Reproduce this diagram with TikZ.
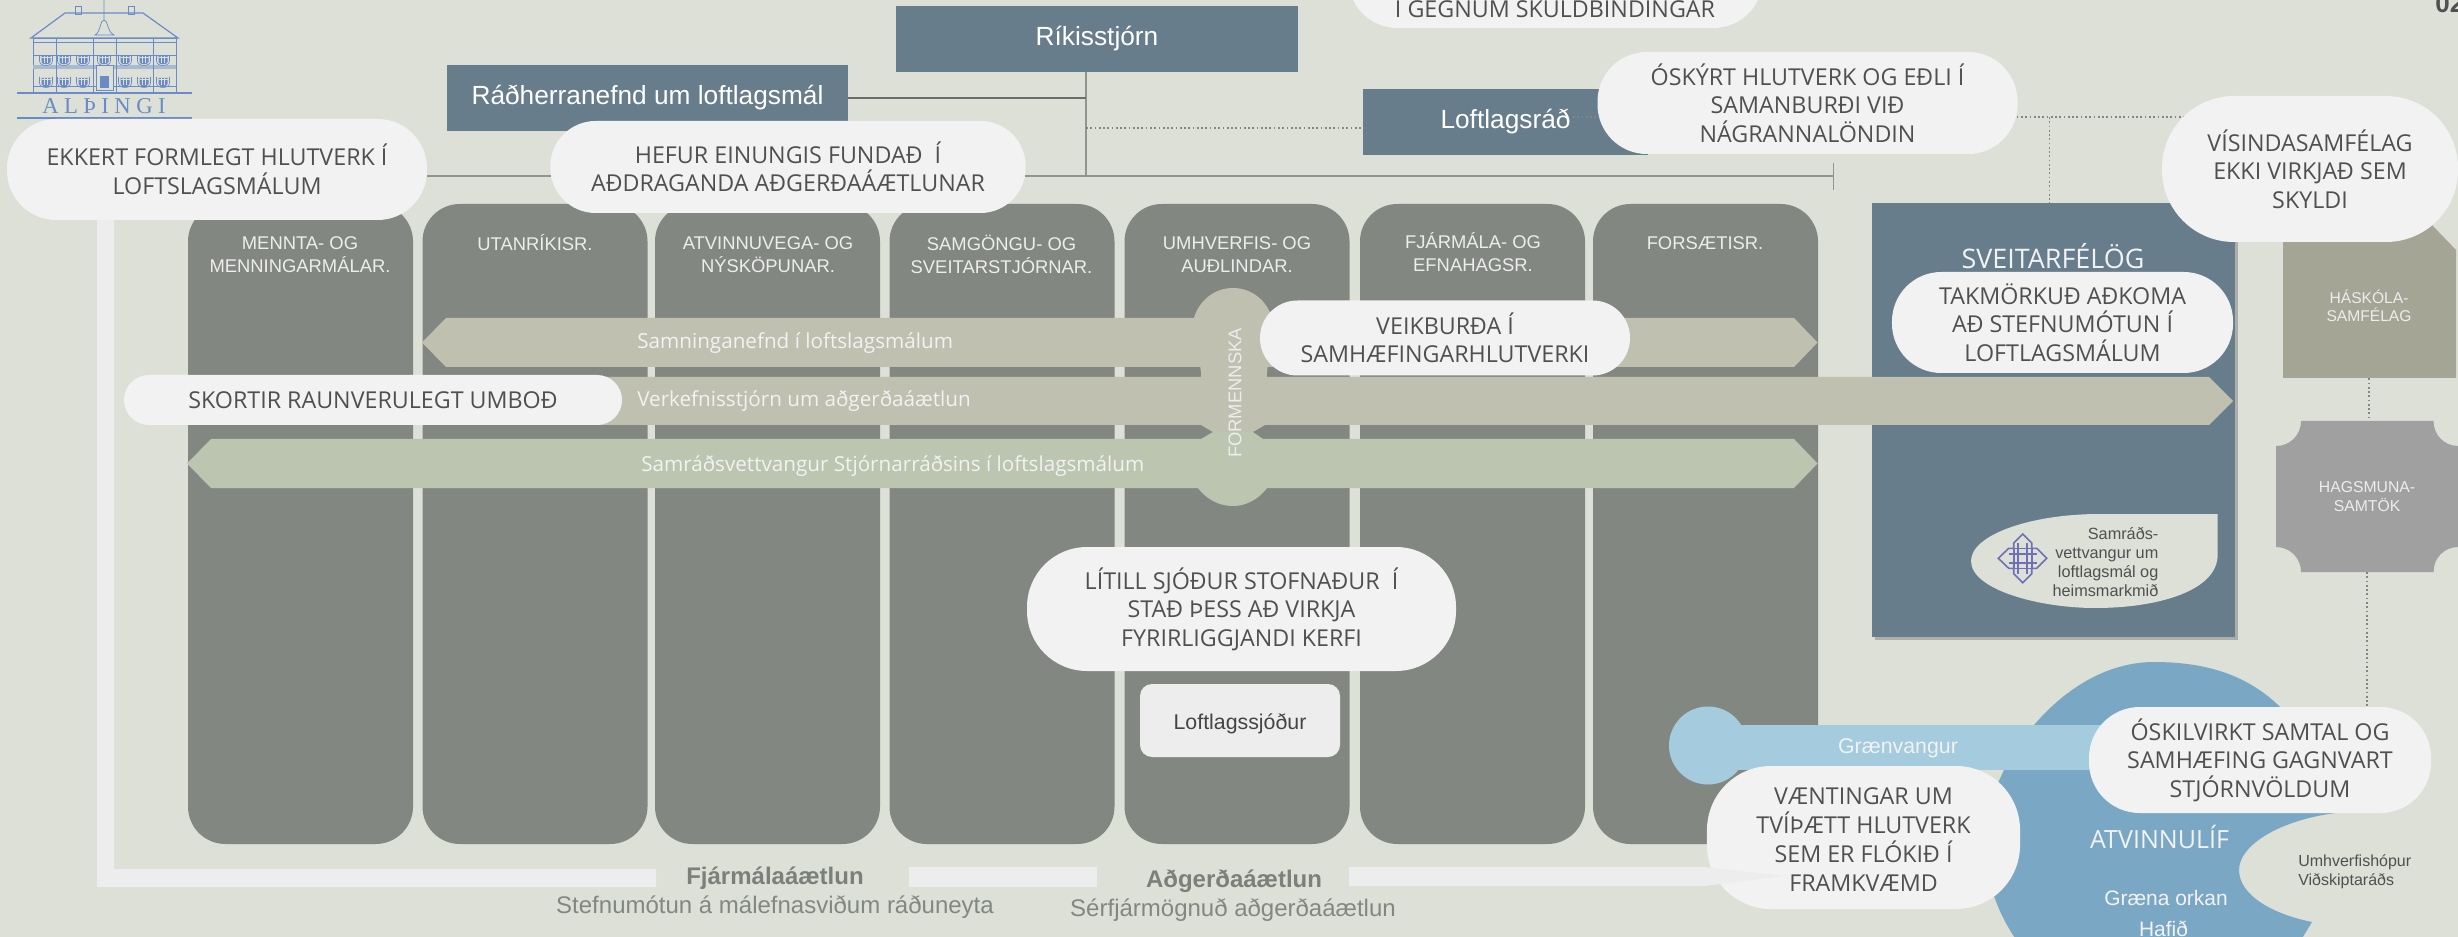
\documentclass[tikz,border=0pt]{standalone}
\usepackage{fontspec}
\setmainfont{Liberation Sans}
\newfontfamily\calloutfont{Open Sans}
\newfontfamily\logofont[LetterSpace=24]{Liberation Serif}
\usetikzlibrary{shadows}

\definecolor{paperbg}{HTML}{DDE0D7}
\definecolor{columngrey}{HTML}{838782}
\definecolor{stjornblue}{HTML}{677D8B}
\definecolor{bubblewhite}{HTML}{F2F2F2}
\definecolor{bracketwhite}{HTML}{EDEDED}
\definecolor{bandbeige}{HTML}{BFC0B0}
\definecolor{bandgreen}{HTML}{BCC5B0}
\definecolor{calloutgrey}{HTML}{505050}
\definecolor{atvinnublue}{HTML}{7AA8C4}
\definecolor{vangurblue}{HTML}{A5CBDF}
\definecolor{haskolifill}{HTML}{A5A595}
\definecolor{hagsmfill}{HTML}{A0A0A0}
\definecolor{logoblue}{HTML}{6A8BC8}
\definecolor{knotblue}{HTML}{6F70B5}

\tikzset{
  bubble/.style={fill=bubblewhite, rounded corners=#1, inner sep=0pt, text=calloutgrey, align=center,
    font=\calloutfont\fontsize{17.45}{21.4}\selectfont},
  stjbox/.style={fill=stjornblue, inner sep=0pt, text=white, font=\fontsize{19.7}{23}\selectfont},
  column/.style={fill=columngrey, rounded corners=28pt, minimum width=168.75pt, minimum height=480pt},
  columntxt/.style={inner sep=0pt, text=bracketwhite, align=center, font=\fontsize{13.8}{17.2}\selectfont},
  bandtxt/.style={inner sep=0pt, anchor=west, text=bubblewhite, font=\calloutfont\fontsize{15.5}{18}\selectfont},
  darktxt/.style={inner sep=0pt, text=calloutgrey, align=#1, font=\fontsize{12.2}{14.3}\selectfont},
  planhead/.style={inner sep=0pt, text=columngrey!95!black, font=\bfseries\fontsize{18}{21}\selectfont},
  plansub/.style={inner sep=0pt, text=columngrey, font=\fontsize{18}{21}\selectfont},
  barline/.style={draw=columngrey!85!paperbg, line width=1.1pt},
  dotline/.style={draw=columngrey, line width=1.3pt, dash pattern=on 1.3pt off 1.9pt},
  logoline/.style={draw=logoblue, line width=0.55pt},
  gluggi/.pic={
    \draw[logoline, line width=0.45pt] (-6.5,2) -- (-6.5,-4) .. controls (-6.5,-10) and (6.5,-10) .. (6.5,-4) -- (6.5,2);
    \fill[logoblue] (-4.5,-5) .. controls (-4.5,-8) and (4.5,-8) .. (4.5,-5) -- (4.5,#1) -- (-4.5,#1) -- cycle;
    \draw[paperbg, line width=0.25pt] (-1.5,-6) -- (-1.5,#1) (1.5,-6) -- (1.5,#1) (-4.5,0) -- (4.5,0) (-4.5,3.5) -- (4.5,3.5);
  },
  gluggi/.default=7
}

\begin{document}
\begin{tikzpicture}[x=0.75pt,y=0.75pt,yscale=-1,xscale=1]
    \useasboundingbox (0,0) rectangle (2458,937);
    \clip (0,0) rectangle (2458,937);
    \fill[paperbg] (0,0) rectangle (2458,937);

    %Logo: building
    \draw[logoline, line width=0.9pt] (31,38) -- (65,13) -- (143,13) -- (178,38) -- cycle;
    \draw[logoline] (75,6) rectangle (81,14) (128,6) rectangle (134,14);
    \draw[logoline] (104,0) -- (104,20) (95,35) .. controls (101,32) and (100,20) .. (104,20) .. controls (108,20) and (107,32) .. (114,35) -- cycle;
    \draw[logoline] (33,38) rectangle (176,92);
    \draw[logoline] (33,42) -- (176,42) (33,55) -- (176,55) (33,86) -- (176,86);
    \fill[logoblue!45!paperbg] (33,65) rectangle (176,69);
    \draw[logoline] (56,38) -- (56,92) (93,38) -- (93,92) (116,38) -- (116,92) (153,38) -- (153,92);
    \path (46,57) pic {gluggi};
    \path (64,57) pic {gluggi};
    \path (83,57) pic {gluggi};
    \path (104,57) pic {gluggi};
    \path (125,57) pic {gluggi};
    \path (144,57) pic {gluggi};
    \path (163,57) pic {gluggi};
    \path (46,79) pic {gluggi};
    \path (64,79) pic {gluggi};
    \path (83,79) pic {gluggi};
    \path (125,79) pic {gluggi};
    \path (144,79) pic {gluggi};
    \path (163,79) pic {gluggi};
    \draw[logoline, fill=paperbg] (96,65) rectangle (113,90);
    \fill[logoblue] (100,76) rectangle (109,88);
    \draw[logoline, line width=0.9pt] (17,93) -- (192,93);
    \draw[logoline, line width=1.1pt] (17,118) -- (192,118);
    \draw (104,106) node (althingi) [inner sep=0pt, text=logoblue, font=\logofont\fontsize{17}{18}\selectfont] {ALÞINGI};

    %Shape: bracket along the plan
    \fill[bracketwhite] (97,200) -- (114,200) -- (114,869) -- (656,869) -- (656,887) -- (97,887) -- cycle;
    \fill[bracketwhite] (909,867) rectangle (1097,887);
    \fill[bracketwhite] (1349,867) -- (1703,867) -- (1720,869) -- (1720,884) -- (1703,886) -- (1349,886) -- cycle;

    %Ministries
    \draw (300.5,524) node (menntar) [column] {};
    \draw (535,524) node (utanr) [column] {};
    \draw (767.5,524) node (atvinnur) [column] {};
    \draw (1002,524) node (samgr) [column] {};
    \draw (1237,524) node (umhvr) [column] {};
    \draw (1472.5,524) node (fjarmr) [column] {};
    \draw (1705.5,524) node (forsr) [column] {};
    \draw (300,254.5) node (menntatxt) [columntxt] {MENNTA- OG\\MENNINGARMÁLAR.};
    \draw (535,243) node (utantxt) [columntxt] {UTANRÍKISR.};
    \draw (768,254.5) node (atvinnutxt) [columntxt] {ATVINNUVEGA- OG\\NÝSKÖPUNAR.};
    \draw (1001.5,254.5) node (samgtxt) [columntxt] {SAMGÖNGU- OG\\SVEITARSTJÓRNAR.};
    \draw (1237,254.5) node (umhvtxt) [columntxt] {UMHVERFIS- OG\\AUÐLINDAR.};
    \draw (1473,252) node (fjarmtxt) [columntxt] {FJÁRMÁLA- OG\\EFNAHAGSR.};
    \draw (1705,243) node (forstxt) [columntxt] {FORSÆTISR.};

    %Government boxes
    \draw (1097,39) node (rikis) [stjbox, minimum width=301.5pt, minimum height=49.5pt] {Ríkisstjórn};
    \draw (647.5,98) node (radh) [stjbox, minimum width=300.75pt, minimum height=49.5pt] {Ráðherranefnd um loftlagsmál};
    \draw (1505.5,122) node (loftrad) [stjbox, minimum width=213.75pt, minimum height=49.5pt] {Loftlagsráð};
    \coordinate (rikisS) at (1086,72);
    \coordinate (barL) at (427,176);
    \coordinate (barR) at (1833.5,176);
    \coordinate (dotL) at (1086,128);
    \coordinate (dotM) at (1573,117);
    \coordinate (dotR) at (2186,117);
    \coordinate (dotN) at (2049.5,117);
    \coordinate (sveitN) at (2049.5,207);
    \draw[barline] (barL) -- (barR);
    \draw[barline, line width=0.8pt] (1833.5,163) -- (1833.5,190);
    \draw[barline] (rikisS) -- (rikisS |- barR);
    \draw[draw=columngrey!80!black, line width=1.4pt] (radh.east) -- (radh.east -| rikisS);
    \draw[dotline] (dotL) -- (loftrad.west |- dotL);
    \draw[dotline] (dotM) -- (dotR);
    \draw[dotline] (dotN) -- (sveitN);

    %Sveitarfelog
    \draw (2053.5,420) node (sveit) [fill=stjornblue, minimum width=272.25pt, minimum height=325.5pt, drop shadow={shadow xshift=2.5pt, shadow yshift=-2.5pt, opacity=0.22, fill=black}] {};
    \draw (2053,256) node (sveittxt) [inner sep=0pt, text=bubblewhite, font=\calloutfont\fontsize{20.2}{23}\selectfont] {SVEITARFÉLÖG};
    %Shape: leaf
    \fill[paperbg] (2217.6,514) -- (2100,514) .. controls (2030,514) and (1971,535) .. (1971,561) .. controls (1971,590) and (2040,608) .. (2095,608) .. controls (2160,608) and (2217.6,590) .. (2217.6,555) -- cycle;
    %Shape: knot
    \draw[knotblue, line width=1.2pt, line join=miter] (2022.7,534) -- (2031.7,543) -- (2031.7,548.3) -- (2036.7,548.3) -- (2046.7,558.3) -- (2036.7,568.3) -- (2031.7,568.3) -- (2031.7,573.7) -- (2022.7,582.7) -- (2013.7,573.7) -- (2013.7,568.3) -- (2008.7,568.3) -- (1998.3,558.3) -- (2008.7,548.3) -- (2013.7,548.3) -- (2013.7,543) -- cycle;
    \draw[knotblue, line width=1.2pt] (2013.7,548.3) rectangle (2031.7,568.3) (2018.2,543) -- (2018.2,573.7) (2027.2,543) -- (2027.2,573.7) (2008.7,553.8) -- (2036.7,553.8) (2008.7,562.8) -- (2036.7,562.8);
    \draw (2158.6,562) node (samrad) [darktxt=right, anchor=east] {Samráðs-\\vettvangur um\\loftlagsmál og\\heimsmarkmið};

    %Shape: Haskola and Hagsmuna
    \fill[haskolifill] (2283,225) -- (2432,225) -- (2456,250) -- (2456,378) -- (2283,378) -- cycle;
    \draw (2369,306) node (haskoli) [inner sep=0pt, minimum width=127.5pt, minimum height=108pt, text=bracketwhite, align=center, font=\fontsize{11.7}{13.6}\selectfont] {HÁSKÓLA-\\SAMFÉLAG};
    \fill[hagsmfill] (2301,421) -- (2433.5,421) .. controls (2433.5,435) and (2444,446) .. (2458.5,446) -- (2458.5,547) .. controls (2444,547) and (2433.5,558) .. (2433.5,572) -- (2301,572) .. controls (2301,558) and (2290,547) .. (2276,547) -- (2276,446) .. controls (2290,446) and (2301,435) .. (2301,421) -- cycle;
    \draw (2367,496.5) node (hagsm) [inner sep=0pt, minimum width=136pt, minimum height=113pt, text=bracketwhite, align=center, font=\fontsize{11.8}{14.6}\selectfont] {HAGSMUNA-\\SAMTÖK};

    %Bands
    \fill[bandbeige] (446,318) -- (1794,318) -- (1817.5,342.5) -- (1794,367) -- (446,367) -- (422,342.5) -- cycle;
    %Shape: Formennska upper part
    \fill[bandbeige] (1233,288) .. controls (1255,288) and (1270,305) .. (1273,322) -- (1267,372) -- (1265,425) -- (1253,432) -- (1213,432) -- (1201,425) -- (1201,372) -- (1193,322) .. controls (1196,305) and (1211,288) .. (1233,288) -- cycle;
    \fill[bandbeige] (580,377) -- (2209,377) -- (2233,401) -- (2209,425) -- (580,425) -- cycle;
    \fill[bandgreen] (211,439) -- (1794,439) -- (1817.5,463.5) -- (1794,488) -- (211,488) -- (187,463.5) -- cycle;
    %Shape: Formennska lower part
    \fill[bandgreen] (1213,432) -- (1253,432) -- (1263,439) -- (1267,488) .. controls (1262,495) and (1250,506) .. (1233,506) .. controls (1215,506) and (1203,495) .. (1198,488) -- (1201,439) -- cycle;
    \draw (637,343) node (samning) [bandtxt] {Samninganefnd í loftslagsmálum};
    \draw (637,401) node (verkefni) [bandtxt] {Verkefnisstjórn um aðgerðaáætlun};
    \draw (641,466) node (samrads) [bandtxt] {Samráðsvettvangur Stjórnarráðsins í loftslagsmálum};
    \draw (1235,393) node (formennska) [inner sep=0pt, rotate=90, text=bracketwhite, font=\fontsize{13.8}{16}\selectfont] {FORMENNSKA};

    %Loftlagssjodur
    \draw (1240,720.5) node (sjodur) [fill=bracketwhite, rounded corners=9pt, inner sep=0pt, minimum width=150pt, minimum height=54.75pt] {};
    \draw (1240,724) node (sjodurtxt) [inner sep=0pt, text=calloutgrey!85!black, font=\fontsize{16}{19}\selectfont] {Loftlagssjóður};

    %Shape: Atvinnulif
    \fill[atvinnublue] (2020,945) .. controls (2005,925) and (1985,890) .. (1985,840) .. controls (1985,770) and (2060,662) .. (2154,662) .. controls (2215,662) and (2255,680) .. (2285,712) -- (2336,813) .. controls (2280,820) and (2239,845) .. (2239,870) .. controls (2239,895) and (2272,914) .. (2312,922) -- (2298,945) -- cycle;
    \fill[vangurblue] (1708,745.5) circle [radius=39];
    \fill[vangurblue] (1725,725) rectangle (2110,770);
    \draw (1898,748) node (graenv) [inner sep=0pt, text=bubblewhite, font=\fontsize{16}{19}\selectfont] {Grænvangur};
    \draw (2159.5,837) node (atvinnu) [inner sep=0pt, text=bubblewhite, font=\calloutfont\fontsize{18.8}{22}\selectfont] {ATVINNULÍF};
    \draw (2166,898) node (orkan) [inner sep=0pt, text=bubblewhite, font=\fontsize{15.7}{18}\selectfont] {Græna orkan};
    \draw (2163.5,929) node (hafid) [inner sep=0pt, text=bubblewhite, font=\fontsize{15.7}{18}\selectfont] {Hafið};
    \draw (2298,871.5) node (umhvhop) [darktxt=left, anchor=west, font=\fontsize{12}{14.3}\selectfont] {Umhverfishópur\\Viðskiptaráðs};

    \draw[dotline] (haskoli.south) -- (haskoli.south |- hagsm.north);

    %Callouts
    \draw (217,169.5) node (ekkert) [bubble=37pt, minimum width=315pt, minimum height=75.75pt] {EKKERT FORMLEGT HLUTVERK Í\\LOFTSLAGSMÁLUM};
    \draw (788,167) node (hefur) [bubble=34pt, minimum width=356.6pt, minimum height=69pt] {HEFUR EINUNGIS FUNDAÐ~~Í\\AÐDRAGANDA AÐGERÐAÁÆTLUNAR};
    \draw (1555.5,-22) node (gegnum) [bubble=37pt, minimum width=311pt, minimum height=75pt] {};
    \draw (1555,7) node (gegnumtxt) [inner sep=0pt, text=calloutgrey, font=\calloutfont\fontsize{17.45}{21.4}\selectfont] {Í GEGNUM SKULDBINDINGAR};
    \draw (1807.5,103) node (oskyrt) [bubble=37pt, minimum width=315pt, minimum height=76.5pt] {ÓSKÝRT HLUTVERK OG EÐLI Í\\SAMANBURÐI VIÐ\\NÁGRANNALÖNDIN};
    \draw (2310,169) node (visind) [bubble=54pt, minimum width=222pt, minimum height=109.5pt] {VÍSINDASAMFÉLAG\\EKKI VIRKJAÐ SEM\\SKYLDI};
    \draw (2062.5,322.5) node (takm) [bubble=37pt, minimum width=255.8pt, minimum height=75.75pt] {TAKMÖRKUÐ AÐKOMA\\AÐ STEFNUMÓTUN Í\\LOFTLAGSMÁLUM};
    \draw (1445,338) node (veik) [bubble=28pt, minimum width=277.5pt, minimum height=56.25pt] {VEIKBURÐA Í\\SAMHÆFINGARHLUTVERKI};
    \draw (373,400) node (skortir) [bubble=18.7pt, minimum width=373.5pt, minimum height=37.5pt] {SKORTIR RAUNVERULEGT UMBOÐ};
    \draw (1241.5,609) node (litill) [bubble=45pt, minimum width=321.75pt, minimum height=93pt] {LÍTILL SJÓÐUR STOFNAÐUR~~Í\\STAÐ ÞESS AÐ VIRKJA\\FYRIRLIGGJANDI KERFI};
    \draw (2260,760) node (oskil) [bubble=38pt, minimum width=256.5pt, minimum height=79.5pt] {ÓSKILVIRKT SAMTAL OG\\SAMHÆFING GAGNVART\\STJÓRNVÖLDUM};
    \draw (1863.5,837.5) node (vaent) [bubble=48pt, minimum width=234.8pt, minimum height=107.25pt] {};
    %Shape: bracket tip over the callout
    \fill[bracketwhite] (1703,867) -- (1786,876) -- (1703,886) -- cycle;
    \draw (1863.5,839.5) node (vaenttxt) [inner sep=0pt, text=calloutgrey, align=center, font=\calloutfont\fontsize{17.45}{21.7}\selectfont] {VÆNTINGAR UM\\TVÍÞÆTT HLUTVERK\\SEM ER FLÓKIÐ Í\\FRAMKVÆMD};
    \draw[dotline] (hagsm.south) -- (hagsm.south |- oskil.north);

    %Plan labels
    \draw (775,878) node (fjarmal) [planhead] {Fjármálaáætlun};
    \draw (775,907) node (stefnu) [plansub] {Stefnumótun á málefnasviðum ráðuneyta};
    \draw (1234,881) node (adgerd) [planhead] {Aðgerðaáætlun};
    \draw (1233,910) node (serfj) [plansub] {Sérfjármögnuð aðgerðaáætlun};

    %Page number
    \draw (2435,13) node (pagenr) [inner sep=0pt, anchor=base west, text=calloutgrey, font=\bfseries\fontsize{19.5}{22}\selectfont] {02};
\end{tikzpicture}
\end{document}
